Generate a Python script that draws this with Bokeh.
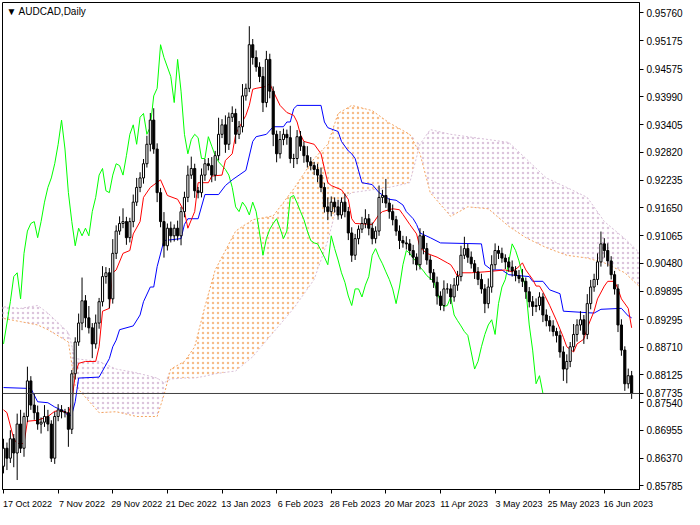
from bokeh.plotting import figure
from bokeh.models import (FixedTicker, PrintfTickFormatter, Span, Label, Range1d,
                          ColumnDataSource)
from bokeh.embed import file_html
from bokeh.resources import INLINE

# ---------------- data ----------------
x_tick_bars = [0, 16, 32, 48, 64, 80, 96, 112, 128, 144, 160, 176]
x_tick_labels = ["17 Oct 2022", "7 Nov 2022", "29 Nov 2022", "21 Dec 2022", "13 Jan 2023",
                 "6 Feb 2023", "28 Feb 2023", "20 Mar 2023", "11 Apr 2023", "3 May 2023",
                 "25 May 2023", "16 Jun 2023"]
y_ticks = [0.95760, 0.95175, 0.94575, 0.93990, 0.93405, 0.92820, 0.92235, 0.91650, 0.91065,
           0.90480, 0.89895, 0.89295, 0.88710, 0.88125, 0.87540, 0.86955, 0.86370, 0.85785]
last_price = 0.87735

close = [
    0.8658, 0.8637, 0.8678, 0.8648, 0.8709, 0.8658, 0.8725, 0.8800, 0.8749, 0.8733,
    0.8709, 0.8713, 0.8725, 0.8709, 0.8637, 0.8725, 0.8739, 0.8735, 0.8733, 0.8698,
    0.8815, 0.8882, 0.8922, 0.8969, 0.8933, 0.8912, 0.8878, 0.8922, 0.8967, 0.9020,
    0.9028, 0.8973, 0.9069, 0.9116, 0.9132, 0.9136, 0.9102, 0.9136, 0.9177, 0.9208,
    0.9228, 0.9258, 0.9299, 0.9350, 0.9289, 0.9197, 0.9136, 0.9085, 0.9122, 0.9106,
    0.9122, 0.9106, 0.9157, 0.9187, 0.9234, 0.9248, 0.9201, 0.9197, 0.9234, 0.9258,
    0.9254, 0.9234, 0.9275, 0.9320, 0.9340, 0.9299, 0.9356, 0.9364, 0.9320, 0.9336,
    0.9401, 0.9417, 0.9509, 0.9482, 0.9462, 0.9442, 0.9387, 0.9478, 0.9411, 0.9320,
    0.9279, 0.9309, 0.9320, 0.9313, 0.9269, 0.9269, 0.9315, 0.9295, 0.9275, 0.9262,
    0.9254, 0.9246, 0.9234, 0.9208, 0.9167, 0.9157, 0.9177, 0.9167, 0.9150, 0.9177,
    0.9157, 0.9112, 0.9065, 0.9100, 0.9120, 0.9132, 0.9142, 0.9122, 0.9100, 0.9116,
    0.9187, 0.9191, 0.9175, 0.9157, 0.9140, 0.9116, 0.9096, 0.9091, 0.9089, 0.9075,
    0.9061, 0.9045, 0.9106, 0.9079, 0.9055, 0.9028, 0.9008, 0.8979, 0.8959, 0.8994,
    0.8994, 0.8977, 0.9002, 0.9020, 0.9065, 0.9079, 0.9061, 0.9047, 0.9030, 0.9014,
    0.8994, 0.8963, 0.8998, 0.9045, 0.9075, 0.9069, 0.9059, 0.9051, 0.9040, 0.9032,
    0.9022, 0.9016, 0.9010, 0.8988, 0.8967, 0.8957, 0.8959, 0.8977, 0.8939, 0.8927,
    0.8916, 0.8904, 0.8896, 0.8861, 0.8825, 0.8841, 0.8872, 0.8898, 0.8918, 0.8929,
    0.8898, 0.8963, 0.8998, 0.9014, 0.9051, 0.9089, 0.9075, 0.9053, 0.9024, 0.8994,
    0.8918, 0.8865, 0.8794, 0.8811, 0.8774]

open_ = [
    0.8620, 0.8658, 0.8637, 0.8678, 0.8648, 0.8709, 0.8658, 0.8725, 0.8800, 0.8749,
    0.8733, 0.8709, 0.8713, 0.8725, 0.8709, 0.8637, 0.8725, 0.8739, 0.8735, 0.8733,
    0.8698, 0.8815, 0.8882, 0.8922, 0.8969, 0.8933, 0.8912, 0.8878, 0.8922, 0.8967,
    0.9020, 0.9028, 0.8973, 0.9069, 0.9116, 0.9132, 0.9136, 0.9102, 0.9136, 0.9177,
    0.9208, 0.9228, 0.9258, 0.9299, 0.9350, 0.9289, 0.9197, 0.9136, 0.9085, 0.9122,
    0.9106, 0.9122, 0.9106, 0.9157, 0.9187, 0.9234, 0.9248, 0.9201, 0.9197, 0.9234,
    0.9258, 0.9254, 0.9234, 0.9275, 0.9320, 0.9340, 0.9299, 0.9356, 0.9364, 0.9320,
    0.9336, 0.9401, 0.9417, 0.9509, 0.9482, 0.9462, 0.9442, 0.9387, 0.9478, 0.9411,
    0.9320, 0.9279, 0.9309, 0.9320, 0.9313, 0.9269, 0.9269, 0.9315, 0.9295, 0.9275,
    0.9262, 0.9254, 0.9246, 0.9234, 0.9208, 0.9167, 0.9157, 0.9177, 0.9167, 0.9150,
    0.9177, 0.9157, 0.9112, 0.9065, 0.9100, 0.9120, 0.9132, 0.9142, 0.9122, 0.9100,
    0.9116, 0.9187, 0.9191, 0.9175, 0.9157, 0.9140, 0.9116, 0.9096, 0.9091, 0.9089,
    0.9075, 0.9061, 0.9045, 0.9106, 0.9079, 0.9055, 0.9028, 0.9008, 0.8979, 0.8959,
    0.8994, 0.8994, 0.8977, 0.9002, 0.9020, 0.9065, 0.9079, 0.9061, 0.9047, 0.9030,
    0.9014, 0.8994, 0.8963, 0.8998, 0.9045, 0.9075, 0.9069, 0.9059, 0.9051, 0.9040,
    0.9032, 0.9022, 0.9016, 0.9010, 0.8988, 0.8967, 0.8957, 0.8959, 0.8977, 0.8939,
    0.8927, 0.8916, 0.8904, 0.8896, 0.8861, 0.8825, 0.8841, 0.8872, 0.8898, 0.8918,
    0.8929, 0.8898, 0.8963, 0.8998, 0.9014, 0.9051, 0.9089, 0.9075, 0.9053, 0.9024,
    0.8994, 0.8918, 0.8865, 0.8794, 0.8811]

upper_wick = [
    0.0020, 0.0012, 0.0018, 0.0010, 0.0022, 0.0030, 0.0008, 0.0030, 0.0010, 0.0025,
    0.0015, 0.0010, 0.0024, 0.0014, 0.0008, 0.0010, 0.0012, 0.0010, 0.0006, 0.0012,
    0.0008, 0.0010, 0.0020, 0.0049, 0.0012, 0.0025, 0.0010, 0.0018, 0.0008, 0.0022,
    0.0012, 0.0010, 0.0030, 0.0012, 0.0015, 0.0028, 0.0010, 0.0008, 0.0016, 0.0020,
    0.0012, 0.0010, 0.0018, 0.0015, 0.0025, 0.0012, 0.0010, 0.0020, 0.0010, 0.0014,
    0.0008, 0.0016, 0.0010, 0.0012, 0.0020, 0.0025, 0.0010, 0.0008, 0.0014, 0.0010,
    0.0012, 0.0018, 0.0010, 0.0035, 0.0012, 0.0020, 0.0010, 0.0015, 0.0010, 0.0012,
    0.0025, 0.0010, 0.0039, 0.0012, 0.0015, 0.0010, 0.0020, 0.0018, 0.0012, 0.0010,
    0.0008, 0.0018, 0.0012, 0.0010, 0.0025, 0.0010, 0.0014, 0.0012, 0.0010, 0.0020,
    0.0010, 0.0008, 0.0012, 0.0016, 0.0010, 0.0020, 0.0012, 0.0010, 0.0015, 0.0010,
    0.0018, 0.0010, 0.0012, 0.0010, 0.0008, 0.0014, 0.0020, 0.0010, 0.0012, 0.0010,
    0.0025, 0.0012, 0.0035, 0.0010, 0.0015, 0.0008, 0.0012, 0.0010, 0.0014, 0.0010,
    0.0012, 0.0008, 0.0016, 0.0010, 0.0012, 0.0010, 0.0008, 0.0012, 0.0010, 0.0018,
    0.0012, 0.0010, 0.0015, 0.0012, 0.0020, 0.0025, 0.0010, 0.0012, 0.0008, 0.0010,
    0.0012, 0.0010, 0.0018, 0.0020, 0.0015, 0.0010, 0.0012, 0.0008, 0.0010, 0.0014,
    0.0010, 0.0012, 0.0020, 0.0008, 0.0010, 0.0012, 0.0015, 0.0010, 0.0008, 0.0012,
    0.0010, 0.0012, 0.0008, 0.0010, 0.0012, 0.0015, 0.0010, 0.0022, 0.0012, 0.0018,
    0.0010, 0.0020, 0.0015, 0.0012, 0.0018, 0.0026, 0.0012, 0.0015, 0.0010, 0.0008,
    0.0010, 0.0012, 0.0008, 0.0015, 0.0010]

lower_wick = [
    0.0015, 0.0025, 0.0010, 0.0030, 0.0057, 0.0010, 0.0018, 0.0012, 0.0010, 0.0015,
    0.0012, 0.0020, 0.0010, 0.0015, 0.0008, 0.0012, 0.0010, 0.0014, 0.0010, 0.0037,
    0.0010, 0.0012, 0.0008, 0.0015, 0.0020, 0.0012, 0.0030, 0.0010, 0.0012, 0.0010,
    0.0015, 0.0020, 0.0010, 0.0012, 0.0008, 0.0010, 0.0015, 0.0010, 0.0012, 0.0008,
    0.0010, 0.0012, 0.0008, 0.0015, 0.0010, 0.0020, 0.0012, 0.0025, 0.0010, 0.0014,
    0.0012, 0.0010, 0.0020, 0.0012, 0.0010, 0.0008, 0.0015, 0.0012, 0.0010, 0.0012,
    0.0010, 0.0015, 0.0012, 0.0010, 0.0008, 0.0018, 0.0012, 0.0010, 0.0020, 0.0010,
    0.0012, 0.0010, 0.0008, 0.0015, 0.0010, 0.0012, 0.0020, 0.0010, 0.0015, 0.0025,
    0.0018, 0.0010, 0.0012, 0.0015, 0.0010, 0.0020, 0.0012, 0.0010, 0.0015, 0.0012,
    0.0010, 0.0012, 0.0015, 0.0010, 0.0012, 0.0018, 0.0010, 0.0012, 0.0010, 0.0008,
    0.0012, 0.0015, 0.0014, 0.0010, 0.0012, 0.0008, 0.0010, 0.0015, 0.0012, 0.0010,
    0.0010, 0.0012, 0.0010, 0.0015, 0.0012, 0.0010, 0.0018, 0.0010, 0.0012, 0.0010,
    0.0015, 0.0012, 0.0010, 0.0012, 0.0010, 0.0015, 0.0012, 0.0018, 0.0010, 0.0012,
    0.0010, 0.0015, 0.0010, 0.0012, 0.0010, 0.0008, 0.0012, 0.0010, 0.0015, 0.0012,
    0.0010, 0.0020, 0.0010, 0.0012, 0.0010, 0.0012, 0.0010, 0.0015, 0.0010, 0.0012,
    0.0012, 0.0010, 0.0012, 0.0015, 0.0012, 0.0020, 0.0012, 0.0010, 0.0015, 0.0012,
    0.0012, 0.0010, 0.0015, 0.0012, 0.0025, 0.0030, 0.0012, 0.0010, 0.0015, 0.0012,
    0.0020, 0.0010, 0.0012, 0.0010, 0.0012, 0.0010, 0.0015, 0.0012, 0.0010, 0.0012,
    0.0015, 0.0012, 0.0015, 0.0010, 0.0012]

# Tenkan-sen (red) read at sample bars
tenkan_bar = [0, 1, 3, 4, 6, 7, 10, 13, 15, 17, 19, 20, 21, 22, 24, 27, 28, 29, 31, 32, 33, 35, 37,
              38, 40, 41, 43, 46, 48, 51, 53, 54, 56, 57, 60, 61, 64, 65, 67, 68, 69, 71, 72, 73,
              74, 77, 78, 79, 81, 83, 85, 86, 87, 88, 91, 93, 94, 95, 96, 99, 101, 102, 103, 108,
              110, 111, 113, 114, 116, 117, 119, 121, 122, 124, 127, 130, 131, 132, 133, 134, 137,
              141, 147, 149, 151, 152, 153, 154, 155, 156, 157, 158, 160, 162, 164, 165, 167, 168,
              170, 171, 173, 174, 176, 177, 179, 180, 181, 183, 184]
tenkan_val = [0.8739, 0.8733, 0.8678, 0.8668, 0.8668, 0.8715, 0.8717, 0.8725, 0.8736, 0.8737,
              0.8731, 0.8756, 0.8813, 0.8837, 0.8841, 0.8841, 0.8872, 0.8947, 0.8953, 0.9028,
              0.9034, 0.9069, 0.9075, 0.9110, 0.9136, 0.9187, 0.9208, 0.9224, 0.9191, 0.9183,
              0.9157, 0.9122, 0.9157, 0.9218, 0.9218, 0.9232, 0.9234, 0.9265, 0.9279, 0.9320,
              0.9334, 0.9360, 0.9381, 0.9415, 0.9417, 0.9421, 0.9427, 0.9411, 0.9381, 0.9366,
              0.9360, 0.9346, 0.9319, 0.9305, 0.9299, 0.9279, 0.9248, 0.9218, 0.9212, 0.9203,
              0.9183, 0.9142, 0.9132, 0.9130, 0.9151, 0.9157, 0.9161, 0.9163, 0.9161, 0.9151,
              0.9130, 0.9110, 0.9081, 0.9069, 0.9061, 0.9049, 0.9045, 0.9034, 0.9020, 0.9028,
              0.9028, 0.9030, 0.9034, 0.9030, 0.9041, 0.9049, 0.9034, 0.9024, 0.9014, 0.9000,
              0.9000, 0.8988, 0.8959, 0.8927, 0.8892, 0.8872, 0.8861, 0.8878, 0.8888, 0.8912,
              0.8947, 0.8973, 0.9000, 0.9010, 0.9010, 0.8994, 0.8973, 0.8953, 0.8912]

# Kijun-sen (blue) read at sample bars
kijun_bar = [0, 8, 9, 10, 13, 15, 18, 19, 20, 21, 22, 28, 31, 32, 33, 34, 38, 40, 41, 43, 44, 45,
             47, 52, 53, 54, 57, 59, 63, 65, 67, 71, 73, 74, 77, 79, 82, 83, 84, 85, 86, 93, 94,
             95, 98, 99, 101, 102, 103, 105, 108, 110, 113, 115, 117, 118, 120, 121, 122, 125,
             128, 140, 141, 143, 146, 148, 154, 155, 158, 160, 163, 164, 173, 175, 181, 183, 184]
kijun_val = [0.8786, 0.8784, 0.8770, 0.8756, 0.8754, 0.8745, 0.8735, 0.8725, 0.8729, 0.8756,
             0.8806, 0.8808, 0.8847, 0.8872, 0.8886, 0.8908, 0.8916, 0.8939, 0.8967, 0.8998,
             0.8998, 0.9041, 0.9096, 0.9100, 0.9130, 0.9142, 0.9142, 0.9193, 0.9193, 0.9212,
             0.9224, 0.9244, 0.9305, 0.9315, 0.9320, 0.9336, 0.9336, 0.9346, 0.9346, 0.9374,
             0.9381, 0.9381, 0.9346, 0.9334, 0.9326, 0.9305, 0.9285, 0.9279, 0.9269, 0.9218,
             0.9214, 0.9197, 0.9183, 0.9181, 0.9171, 0.9157, 0.9142, 0.9130, 0.9112, 0.9102,
             0.9091, 0.9089, 0.9045, 0.9034, 0.9034, 0.9024, 0.9020, 0.9010, 0.9010, 0.8992,
             0.8984, 0.8947, 0.8943, 0.8951, 0.8953, 0.8937, 0.8933]

# Kumo: Senkou span A (sandy brown) and span B (thistle), as displayed (shifted forward)
kumo_bar = [-1, 5, 10, 13, 19, 21, 28, 33, 39, 45, 47, 49, 53, 56, 59, 62, 68, 73, 79, 85, 91,
            95, 98, 102, 108, 113, 119, 122, 125, 131, 136, 142, 148, 153, 159, 165, 171, 176,
            182, 187]
span_a = [0.8933, 0.8925, 0.8918, 0.8908, 0.8882, 0.8790, 0.8733, 0.8735, 0.8725, 0.8725,
          0.8770, 0.8825, 0.8841, 0.8872, 0.8957, 0.9034, 0.9116, 0.9140, 0.9148, 0.9205,
          0.9269, 0.9299, 0.9364, 0.9381, 0.9370, 0.9344, 0.9320, 0.9279, 0.9197, 0.9147,
          0.9167, 0.9163, 0.9126, 0.9102, 0.9081, 0.9065, 0.9059, 0.9049, 0.9028, 0.8994]
span_b = [0.8957, 0.8953, 0.8959, 0.8943, 0.8902, 0.8847, 0.8841, 0.8825, 0.8817, 0.8806,
          0.8796, 0.8804, 0.8806, 0.8806, 0.8810, 0.8815, 0.8821, 0.8851, 0.8902, 0.8953,
          0.9014, 0.9096, 0.9177, 0.9197, 0.9203, 0.9208, 0.9218, 0.9299, 0.9330, 0.9320,
          0.9315, 0.9309, 0.9303, 0.9269, 0.9228, 0.9208, 0.9187, 0.9136, 0.9100, 0.9065]

CHIKOU_SHIFT = 26

# ---------------- figure ----------------
FW, FH = 637, 487
LABEL_SHIFT = 7   # dates are written starting at their tick, not centred on it
n = len(close)
bars = list(range(n))
high = [max(o, c) + w for o, c, w in zip(open_, close, upper_wick)]
low = [min(o, c) - w for o, c, w in zip(open_, close, lower_wick)]

p = figure(frame_width=FW, frame_height=FH, x_range=Range1d(-0.3, 186.3),
           y_range=Range1d(0.8571, 0.9598), output_backend="svg", toolbar_location=None,
           y_axis_location="right", min_border_left=2, min_border_top=2,
           min_border_right=0, min_border_bottom=0)
p.background_fill_color = "white"
p.border_fill_color = "white"
p.outline_line_color = "#000000"
p.xgrid.visible = False
p.ygrid.visible = False

# kumo
top = [max(a, b) for a, b in zip(span_a, span_b)]
ksrc = ColumnDataSource(dict(x=kumo_bar, a=span_a, b=span_b, top=top))
p.varea(x="x", y1="b", y2="top", source=ksrc, fill_alpha=0, hatch_pattern="dot",
        hatch_color="#F4A460", hatch_scale=5, hatch_weight=1, hatch_alpha=0.75)
p.varea(x="x", y1="a", y2="top", source=ksrc, fill_alpha=0, hatch_pattern="dot",
        hatch_color="#D8BFD8", hatch_scale=5, hatch_weight=1, hatch_alpha=0.9)
p.line(x="x", y="a", source=ksrc, line_color="#F4A460", line_width=1, line_dash="2 2")
p.line(x="x", y="b", source=ksrc, line_color="#D8BFD8", line_width=1, line_dash="2 2")

# price line
p.add_layout(Span(location=last_price, dimension="width", line_color="#404040", line_width=1))

# chikou span
p.line([b - CHIKOU_SHIFT for b in bars[CHIKOU_SHIFT:]], close[CHIKOU_SHIFT:],
       line_color="#00FF00", line_width=1)
# kijun, tenkan
p.line(kijun_bar, kijun_val, line_color="#0000FF", line_width=1)
p.line(tenkan_bar, tenkan_val, line_color="#FF0000", line_width=1)

# candles
p.segment(x0=bars, y0=high, x1=bars, y1=low, line_color="black", line_width=1)
inc = [i for i in bars if close[i] >= open_[i]]
dec = [i for i in bars if close[i] < open_[i]]
p.vbar(x=inc, width=0.62, top=[close[i] for i in inc], bottom=[open_[i] for i in inc],
       fill_color="white", line_color="black", line_width=1)
p.vbar(x=dec, width=0.62, top=[open_[i] for i in dec], bottom=[close[i] for i in dec],
       fill_color="black", line_color="black", line_width=1)

# right price axis
ya = p.yaxis[0]
ya.ticker = FixedTicker(ticks=y_ticks + [last_price])
ya.formatter = PrintfTickFormatter(format="%.5f")
ya.major_tick_in = 0
ya.major_tick_out = 4
ya.minor_tick_line_color = None
ya.axis_line_color = "black"
ya.major_label_standoff = 3
ya.major_label_text_font = "Liberation Sans"
ya.major_label_text_font_size = "10px"
ya.major_label_text_color = "black"

# bottom axis: tick marks at the dates (minor ticks), labels written to the right of them
xa = p.xaxis[0]
xa.ticker = FixedTicker(ticks=[b + LABEL_SHIFT for b in x_tick_bars], minor_ticks=x_tick_bars)
xa.major_label_overrides = {b + LABEL_SHIFT: t for b, t in zip(x_tick_bars, x_tick_labels)}
xa.major_tick_line_color = None
xa.major_tick_in = 0
xa.major_tick_out = 0
xa.minor_tick_in = 0
xa.minor_tick_out = 4
xa.minor_tick_line_color = "black"
xa.axis_line_color = "black"
xa.major_label_standoff = 5
xa.major_label_text_font = "Liberation Sans"
xa.major_label_text_font_size = "9px"
xa.major_label_text_color = "black"

p.add_layout(Label(x=4, y=FH - 3, x_units="screen", y_units="screen", text="\u25bc AUDCAD,Daily",
                   text_align="left", text_baseline="top", text_font="Liberation Sans",
                   text_font_size="10px", text_color="black"))

open("out.html", "w").write(file_html(p, INLINE))
